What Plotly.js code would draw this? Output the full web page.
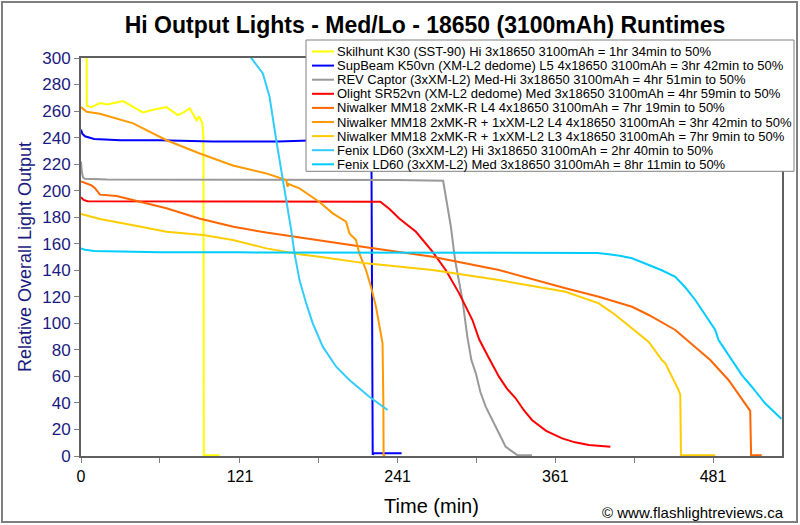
<!DOCTYPE html>
<html>
<head>
<meta charset="utf-8">
<script src="https://cdn.plot.ly/plotly-3.0.1.min.js"></script>
<style>html,body{margin:0;padding:0;background:#fff;}#chart{width:800px;height:525px;}</style>
</head>
<body>
<div id="chart"></div>
<script>
// ---- Data (time in minutes, relative output) ----
const seriesNames = [
  "Skilhunt K30 (SST-90) Hi 3x18650 3100mAh = 1hr 34min to 50%",
  "SupBeam K50vn (XM-L2 dedome) L5 4x18650 3100mAh = 3hr 42min to 50%",
  "REV Captor (3xXM-L2) Med-Hi 3x18650 3100mAh = 4hr 51min to 50%",
  "Olight SR52vn (XM-L2 dedome) Med 3x18650 3100mAh = 4hr 59min to 50%",
  "Niwalker MM18 2xMK-R L4 4x18650 3100mAh = 7hr 19min to 50%",
  "Niwalker MM18 2xMK-R + 1xXM-L2 L4 4x18650 3100mAh = 3hr 42min to 50%",
  "Niwalker MM18 2xMK-R + 1xXM-L2 L3 4x18650 3100mAh = 7hr 9min to 50%",
  "Fenix LD60 (3xXM-L2) Hi 3x18650 3100mAh = 2hr 40min to 50%",
  "Fenix LD60 (3xXM-L2) Med 3x18650 3100mAh = 8hr 11min to 50%"
];
const seriesColors = ["#ffff00","#0000ff","#999999","#ff0000","#ff6600","#ff9900","#ffcc00","#33ccff","#00ccff"];

const skilhuntT = [4.2, 4.4, 8, 14.4, 20, 31.9, 40, 47, 55, 65, 73.7, 78, 82.8, 86, 88, 90, 92.3, 93.2, 93.5, 94, 105.5];
const skilhuntV = [330, 264, 263, 266, 265, 267.5, 263, 259, 261, 263, 257, 259, 262, 257, 253, 256, 251, 240, 0, 0.5, 0.5];

const supbeamT = [0, 1, 3, 10, 30, 60, 100, 150, 180, 200, 221, 221.5, 222, 223, 244];
const supbeamV = [246, 243, 241, 239, 238, 238, 237, 237, 238, 238, 238, 120, 1, 2, 2];

const revT = [0, 0.5, 1.5, 3, 20, 60, 120, 180, 240, 275.6, 281.5, 284.7, 290.3, 294, 297.1, 300.5, 304, 308, 315.6, 323.2, 332, 343.2];
const revV = [222, 215, 210, 209, 208.5, 208.5, 208, 208, 208, 207.5, 172.8, 147.7, 117.6, 90, 72.3, 62.3, 48, 37.2, 22, 7, 0.7, 0.5];

const olightT = [0, 2, 5, 20, 60, 120, 180, 227.8, 235, 242.2, 254.9, 267.5, 277.7, 287.8, 297.9, 303, 309.3, 318.1, 324, 330.8, 337, 343.4, 354, 366.2, 376, 386.5, 402.9];
const olightV = [195, 193, 192, 192, 192, 192, 192, 191.6, 186, 179, 169, 154, 140, 122.6, 102.5, 88, 76, 59.8, 51, 43.5, 34.5, 27, 19, 13.3, 10.3, 8.3, 7];

const niwL4T = [0, 5, 8, 10.5, 14.4, 27, 39.7, 65, 90, 116, 141, 166.3, 216.9, 267.5, 318.1, 368.8, 394.1, 419.4, 432.1, 452.3, 461.1, 470, 478.9, 492.8, 509.3, 510, 518.1];
const niwL4V = [207, 205, 204, 202, 197, 196, 193, 186.7, 179, 172.8, 168.4, 164.6, 157.3, 150.2, 140.2, 126.4, 120, 112.5, 106.3, 95, 87.4, 80, 72.3, 57.3, 34, 0.5, 0.5];

const niwXmL4T = [0, 4.3, 14.4, 39.7, 65.1, 90.4, 115.6, 141, 156.2, 157.2, 158, 166.3, 181.5, 191.6, 201.7, 204.3, 209.3, 211.8, 216.9, 220.7, 224.5, 228.3, 229.5, 230.1, 230.3, 231.6];
const niwXmL4V = [263, 259.5, 258, 250.7, 238, 228, 219, 213, 208, 203, 205, 201.7, 191.5, 182.9, 176.6, 167.8, 162.8, 152.7, 140.2, 127.6, 112.5, 92.5, 84.9, 42, 0.5, 0.5];

const niwL3T = [0, 14.4, 39.7, 65.1, 92.9, 115.6, 141, 166.3, 181.5, 216.9, 267.5, 318.1, 368.8, 394.1, 406.8, 419.4, 432.1, 442.1, 444.7, 454.8, 456.1, 456.6, 482.7];
const niwL3V = [182.4, 178.6, 174, 169, 166.5, 162.8, 156.5, 152, 150.2, 145.2, 140.2, 132.6, 123.8, 115, 106.3, 96.2, 86, 72.3, 69.8, 49.7, 46, 0.5, 0.5];

const fenixHiT = [127, 129.6, 138.4, 143.5, 148.6, 153.6, 157.4, 160, 162.5, 166.3, 171.4, 176.4, 184, 194.2, 204.3, 219.4, 233.3];
const fenixHiV = [312, 300, 288.4, 270.8, 238, 208, 187.9, 170.3, 152.7, 132.6, 115, 100, 82.4, 67.3, 57.3, 44.7, 34.7];

const fenixMedT = [0, 3, 10, 32, 60, 120, 180, 240, 300, 360, 384, 393, 401.7, 410, 419.4, 432.1, 442, 452.3, 460, 467.5, 475, 482.7, 485.2, 495.3, 503, 510.5, 520.6, 533];
const fenixMedV = [156.5, 155.5, 154.5, 154, 153.5, 153.5, 153.5, 153.5, 153.3, 153.2, 153.2, 153, 152, 151, 149, 144, 140, 135.1, 127, 117.6, 106, 95, 87.4, 72.3, 61, 52.2, 39.7, 28];

const xTickVals = [0, 60, 121, 181, 241, 301, 361, 421, 481];
const xTickText = ["0", "", "121", "", "241", "", "361", "", "481"];

// ---- Build traces ----
const seriesT = [skilhuntT, supbeamT, revT, olightT, niwL4T, niwXmL4T, niwL3T, fenixHiT, fenixMedT];
const seriesV = [skilhuntV, supbeamV, revV, olightV, niwL4V, niwXmL4V, niwL3V, fenixHiV, fenixMedV];

const traces = seriesNames.map((n, i) => ({
  type: "scatter", mode: "lines", name: n,
  x: seriesT[i], y: seriesV[i],
  line: { color: seriesColors[i], width: 2 },
  showlegend: false, hoverinfo: "skip"
}));

// ---- Layout helpers (pixel -> paper) ----
const L = 81, R = 782, T = 58, B = 456;
const px = p => (p - L) / (R - L);
const py = p => (B - p) / (B - T);
const FONT = "Liberation Sans, Arial, sans-serif";

const ROW0 = 51.5, ROWH = 14.1;
const shapes = [
  { type: "rect", xref: "paper", yref: "paper", x0: px(2), x1: px(797), y0: py(522), y1: py(2),
    line: { color: "#7f7f7f", width: 2 }, fillcolor: "rgba(0,0,0,0)", layer: "below" },
  { type: "rect", xref: "paper", yref: "paper", x0: px(306), x1: px(794), y0: py(ROW0 + 8 * ROWH + 7), y1: py(40),
    line: { color: "#808080", width: 1 }, fillcolor: "#ffffff", layer: "above" }
];
const annotations = [];
seriesNames.forEach((n, i) => {
  const yc = ROW0 + i * ROWH;
  shapes.push({ type: "line", xref: "paper", yref: "paper", x0: px(312), x1: px(334), y0: py(yc), y1: py(yc),
    line: { color: seriesColors[i], width: 2 }, layer: "above" });
  annotations.push({ xref: "paper", yref: "paper", x: px(336), y: py(yc), xanchor: "left", yanchor: "middle",
    text: n, showarrow: false, borderpad: 0, font: { family: FONT, size: 13, color: "#000" } });
});
annotations.push({ xref: "paper", yref: "paper", x: px(786), y: py(512), xanchor: "right", yanchor: "middle",
  text: "© www.flashlightreviews.ca", showarrow: false, font: { family: FONT, size: 15, color: "#000" } });

const layout = {
  width: 800, height: 525,
  margin: { l: L, r: 800 - R, t: T, b: 525 - B, pad: 0 },
  paper_bgcolor: "#ffffff", plot_bgcolor: "#ffffff",
  font: { family: FONT },
  title: { text: "<b>Hi Output Lights - Med/Lo - 18650 (3100mAh) Runtimes</b>",
    font: { family: FONT, size: 23, color: "#000" },
    xref: "paper", x: px(425), xanchor: "center", yref: "container", y: 1 - 25 / 525, yanchor: "middle" },
  xaxis: {
    range: [0, 533.5], tickmode: "array", tickvals: xTickVals, ticktext: xTickText,
    ticks: "outside", ticklen: 5, tickwidth: 1, tickcolor: "#808080",
    showline: true, linecolor: "#606060", linewidth: 2, mirror: true,
    showgrid: false, zeroline: false,
    tickfont: { family: FONT, size: 16, color: "#000" },
    title: { text: "Time (min)", font: { family: FONT, size: 20, color: "#000" }, standoff: 15 }
  },
  yaxis: {
    range: [0, 300], dtick: 20, tick0: 0,
    ticks: "outside", ticklen: 5, tickwidth: 1, tickcolor: "#808080",
    showline: true, linecolor: "#606060", linewidth: 2, mirror: true,
    showgrid: false, zeroline: false,
    tickfont: { family: FONT, size: 17, color: "#1a1a80" },
    title: { text: "Relative Overall Light Output", font: { family: FONT, size: 18, color: "#1a1a80" }, standoff: 6 }
  },
  shapes: shapes,
  annotations: annotations,
  showlegend: false
};

Plotly.newPlot("chart", traces, layout, { displayModeBar: false, staticPlot: true });
</script>
</body>
</html>
